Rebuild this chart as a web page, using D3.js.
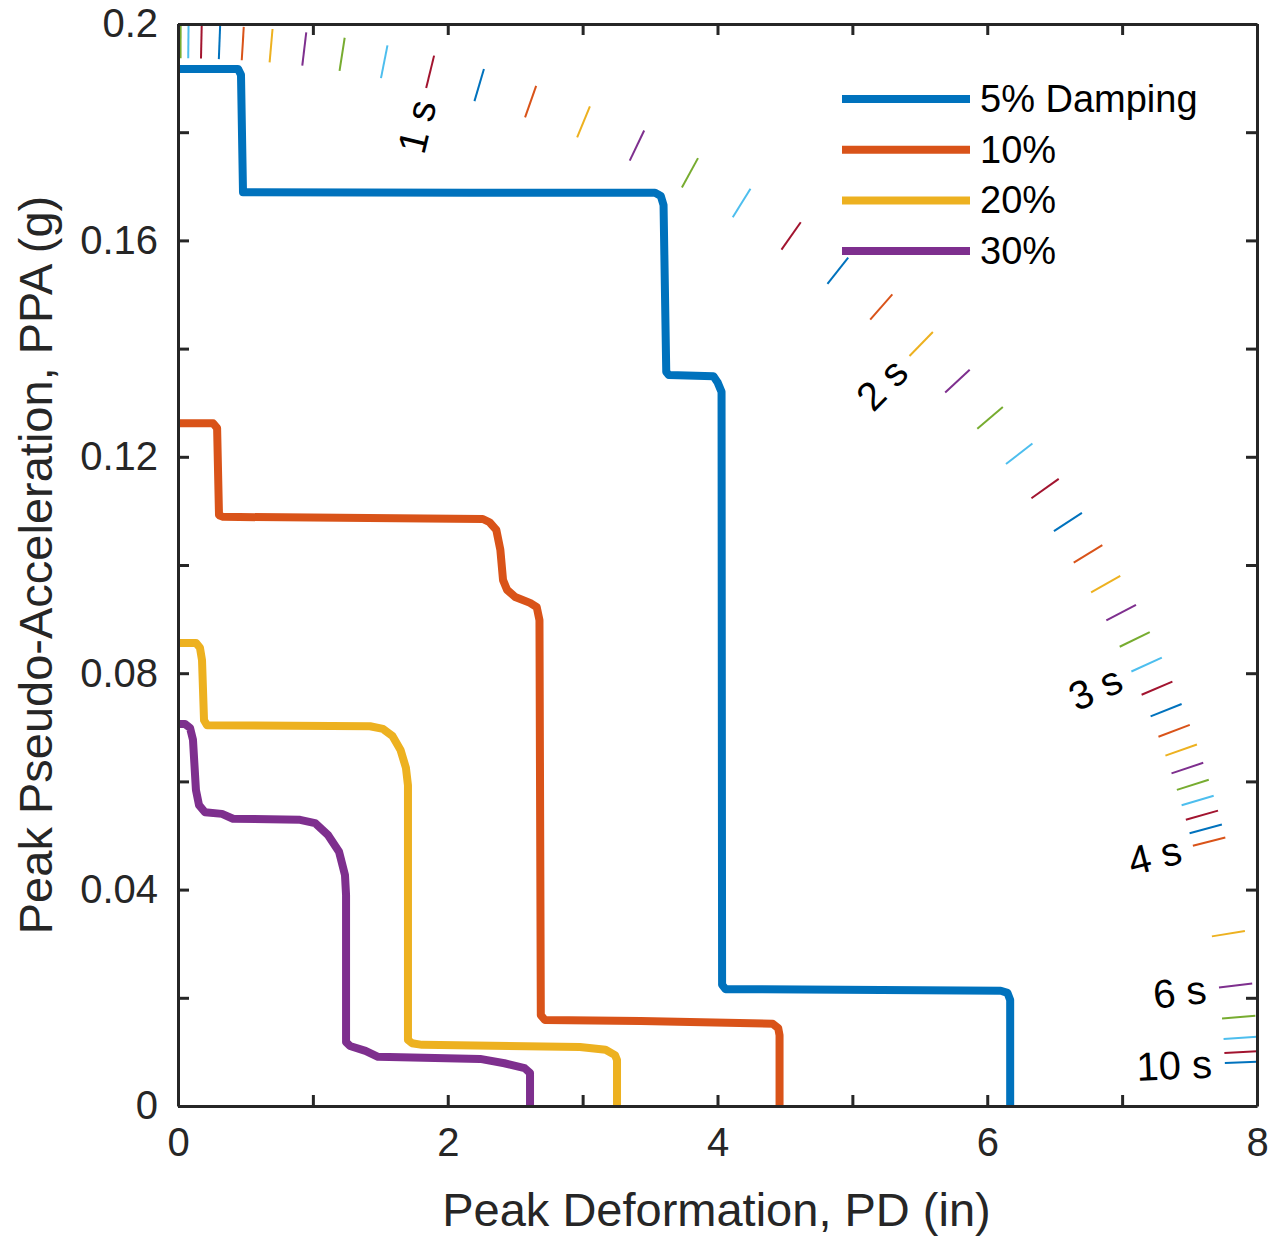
<!DOCTYPE html>
<html>
<head>
<meta charset="utf-8">
<script src="https://d3js.org/d3.v7.min.js"></script>
<style>
  body { margin: 0; background: #fff; }
  svg text { font-family: Arial, "Liberation Sans", Helvetica, sans-serif; fill: #262626; }
  .axis path, .axis line { stroke: #262626; stroke-width: 3; }
  .axis text { font-size: 40px; fill: #262626; }
  .title { font-size: 47px; }
  .legend text { font-size: 38px; fill: #000; }
  .plabel { font-size: 40px; fill: #000; }
</style>
</head>
<body>
<div id="chart"></div>
<script>
// damping ratios, one curve each
const dampings = ["5% Damping", "10%", "20%", "30%"];
const colors = ["#0072BD", "#D95319", "#EDB120", "#7E2F8E", "#77AC30", "#4DBEEE", "#A2142F"];

// [PD (in), PPA (g)]
const pts5 = [[0,0.1917],[0.445,0.1917],[0.467,0.1906],[0.482,0.1689],[2.165,0.1688],[3.537,0.1688],
  [3.58,0.1682],[3.60,0.1665],[3.62,0.1357],[3.64,0.1351],[3.97,0.1349],[4.00,0.1338],[4.03,0.1320],
  [4.034,0.0224],[4.06,0.0216],[6.10,0.0213],[6.15,0.0209],[6.17,0.0196],[6.17,0]];
const pts10 = [[0,0.1262],[0.26,0.1262],[0.29,0.1253],[0.304,0.1092],[0.334,0.1089],[2.26,0.1085],
  [2.31,0.1079],[2.36,0.1065],[2.39,0.1028],[2.41,0.0972],[2.44,0.0954],[2.50,0.0941],[2.61,0.0930],
  [2.66,0.0922],[2.68,0.0898],[2.69,0.0168],[2.72,0.0159],[3.43,0.0157],[4.41,0.0152],[4.45,0.0144],
  [4.46,0.0131],[4.46,0]];
const pts20 = [[0,0.0856],[0.133,0.0856],[0.163,0.0847],[0.178,0.0824],[0.193,0.0713],[0.215,0.0704],
  [1.424,0.0702],[1.52,0.0697],[1.59,0.0684],[1.65,0.0658],[1.69,0.0625],[1.705,0.0593],[1.705,0.0122],
  [1.735,0.0116],[1.81,0.0113],[2.98,0.0109],[3.17,0.0104],[3.24,0.0094],[3.255,0.0085],[3.255,0]];
const pts30 = [[0,0.0706],[0.052,0.0706],[0.089,0.0699],[0.111,0.0677],[0.133,0.0584],[0.156,0.0556],
  [0.2,0.0543],[0.326,0.0540],[0.408,0.0531],[0.905,0.0529],[1.016,0.0523],[1.112,0.0501],[1.194,0.0470],
  [1.238,0.0427],[1.246,0.0390],[1.246,0.0118],[1.275,0.0111],[1.39,0.0102],[1.483,0.0091],[2.24,0.0087],
  [2.42,0.0079],[2.57,0.0070],[2.61,0.0061],[2.61,0]];
const series = [pts5, pts10, pts20, pts30];

// periods (s) of the constant-period marks, and the ones that get a label
const periods = d3.range(1, 41).map(i => i / 10).concat([5, 6, 7, 8, 9, 10]);
const labelPeriods = [1, 2, 3, 4, 6, 10];
const gravity = 386.09; // in/s^2

// ticks
const xTicks = [0, 1, 2, 3, 4, 5, 6, 7, 8];
const xLabels = [0, 2, 4, 6, 8];
const yTicks = [0, 0.02, 0.04, 0.06, 0.08, 0.1, 0.12, 0.14, 0.16, 0.18, 0.2];
const yLabels = ["0", "0.04", "0.08", "0.12", "0.16", "0.2"];

const margin = {top: 24, left: 178};
const width = 1079, height = 1082;

let svg = d3.select("#chart").append("svg")
    .attr("width", 1271)
    .attr("height", 1238);

let g = svg.append("g").attr("transform", "translate(" + margin.left + "," + margin.top + ")");

let x = d3.scaleLinear().domain([0, 8]).range([0, width]);
let y = d3.scaleLinear().domain([0, 0.2]).range([height, 0]);

svg.append("defs").append("clipPath").attr("id", "plotclip")
    .append("rect").attr("width", width).attr("height", height);

let plot = g.append("g").attr("clip-path", "url(#plotclip)");

// constant period marks: radial segments through the origin
const rIn = 0.971 * width, rOut = 1.002 * width, rText = 0.959 * width;
function angleOf(T) {
    let k = Math.pow(2 * Math.PI / T, 2) / gravity; // g per inch
    return Math.atan2(y(0) - y(k), x(1) - x(0));
}
plot.selectAll("line.period").data(periods).enter().append("line")
    .attr("class", "period")
    .attr("x1", d => x(0) + rIn * Math.cos(angleOf(d)))
    .attr("y1", d => y(0) - rIn * Math.sin(angleOf(d)))
    .attr("x2", d => x(0) + rOut * Math.cos(angleOf(d)))
    .attr("y2", d => y(0) - rOut * Math.sin(angleOf(d)))
    .attr("stroke", (d, i) => colors[(i + 4) % colors.length])
    .attr("stroke-width", 2);

g.selectAll("text.plabel").data(labelPeriods).enter().append("text")
    .attr("class", "plabel")
    .attr("text-anchor", "end")
    .attr("dominant-baseline", "central")
    .attr("transform", d => {
        let a = angleOf(d);
        return "translate(" + (x(0) + rText * Math.cos(a)) + "," + (y(0) - rText * Math.sin(a)) + ")" +
            " rotate(" + (-a * 180 / Math.PI) + ")";
    })
    .text(d => d + " s");

// damping curves
let line = d3.line().x(d => x(d[0])).y(d => y(d[1]));
plot.selectAll("path.curve").data(series).enter().append("path")
    .attr("class", "curve")
    .attr("d", line)
    .attr("fill", "none")
    .attr("stroke", (d, i) => colors[i])
    .attr("stroke-width", 8)
    .attr("stroke-linejoin", "round");

// axes, ticks pointing inward, box on
let fmtY = d => { let s = d3.format("~g")(+d.toFixed(4)); return yLabels.includes(s) ? s : ""; };
let fmtX = d => xLabels.includes(d) ? d : "";

g.append("g").attr("class", "axis").attr("transform", "translate(0," + height + ")")
    .call(d3.axisBottom(x).tickValues(xTicks).tickSizeInner(-11).tickSizeOuter(0).tickPadding(22).tickFormat(fmtX));
g.append("g").attr("class", "axis")
    .call(d3.axisTop(x).tickValues(xTicks).tickSizeInner(-11).tickSizeOuter(0).tickFormat(""));
g.append("g").attr("class", "axis")
    .call(d3.axisLeft(y).tickValues(yTicks).tickSizeInner(-11).tickSizeOuter(0).tickPadding(20).tickFormat(fmtY));
g.append("g").attr("class", "axis").attr("transform", "translate(" + width + ",0)")
    .call(d3.axisRight(y).tickValues(yTicks).tickSizeInner(-11).tickSizeOuter(0).tickFormat(""));
g.selectAll(".axis text").attr("font-family", null);

// axis titles
g.append("text").attr("class", "title")
    .attr("x", width / 2 - 1).attr("y", height + 120)
    .attr("text-anchor", "middle")
    .text("Peak Deformation, PD (in)");
g.append("text").attr("class", "title")
    .attr("transform", "rotate(-90)")
    .attr("x", -height / 2).attr("y", -126)
    .attr("text-anchor", "middle")
    .text("Peak Pseudo-Acceleration, PPA (g)");

// legend
let legend = g.append("g").attr("class", "legend").attr("transform", "translate(664,75)");
let rows = legend.selectAll("g").data(dampings).enter().append("g")
    .attr("transform", (d, i) => "translate(0," + (i * 50.7) + ")");
rows.append("line").attr("x1", 0).attr("x2", 128)
    .attr("stroke", (d, i) => colors[i]).attr("stroke-width", 8);
rows.append("text").attr("x", 138).attr("dominant-baseline", "central").text(d => d);
</script>
</body>
</html>
